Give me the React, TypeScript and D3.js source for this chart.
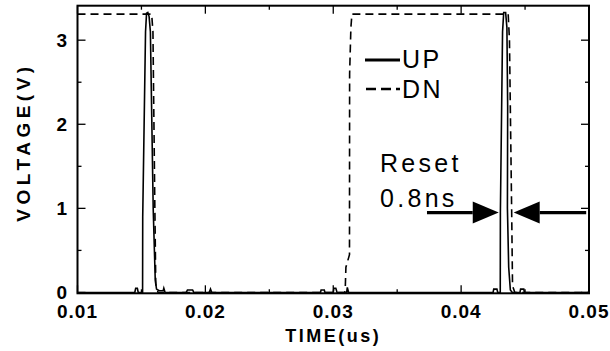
import React from "react";
import * as d3 from "d3";

// ---- data (time in us, voltage in V) ----
const upTime = [0.0100, 0.01448, 0.01455, 0.01468, 0.01475, 0.01509, 0.01510, 0.01532, 0.01540, 0.01550, 0.01560, 0.01570, 0.01592, 0.01608, 0.01618, 0.01640, 0.01670, 0.01675, 0.01685, 0.0185, 0.0186, 0.0190, 0.0191, 0.0203, 0.0204, 0.0205, 0.0290, 0.02905, 0.0293, 0.02935, 0.0300, 0.03005, 0.0302, 0.0303, 0.03045, 0.03105, 0.0311, 0.0312, 0.0425, 0.04255, 0.0428, 0.04286, 0.04306, 0.04307, 0.04324, 0.04333, 0.04348, 0.04358, 0.04364, 0.04362, 0.04372, 0.04385, 0.0440, 0.0446, 0.04465, 0.0449, 0.04495, 0.0500];
const upVolt = [0, 0, 0.05, 0.05, 0, 0, 0.9, 3.1, 3.32, 3.33, 3.28, 3.1, 1.0, 0.15, 0.04, 0.02, 0.02, 0.05, 0, 0, 0.03, 0.03, 0, 0, 0.04, 0, 0, 0.03, 0.03, 0, 0, 0.05, 0.05, 0, 0, 0, 0.06, 0, 0, 0.04, 0.04, 0, 0, 0.95, 3.1, 3.33, 3.33, 3.15, 2.2, 1.0, 0.3, 0.03, 0, 0, 0.04, 0.04, 0, 0];

const dnTime = [0.0100, 0.01580, 0.01590, 0.01605, 0.01612, 0.01630, 0.0309, 0.03094, 0.03099, 0.03127, 0.03128, 0.03138, 0.03146, 0.04368, 0.04378, 0.04395, 0.04402, 0.04420, 0.0500];
const dnVolt = [3.31, 3.31, 3.1, 1.0, 0.1, 0, 0, 0.05, 0.3, 0.45, 2.6, 3.15, 3.31, 3.31, 3.0, 1.0, 0.08, 0, 0];

const xTicks = [0.01, 0.02, 0.03, 0.04, 0.05];
const xTickLabels = ["0.01", "0.02", "0.03", "0.04", "0.05"];
const yTicks = [0, 1, 2, 3];
const yTickLabels = ["0", "1", "2", "3"];
const legendNames = ["UP", "DN"];
const annotationLines = ["Reset", "0.8ns"];
// arrows: [tail time, tip time] at given voltage
const arrowLeft = [0.03733, 0.04294];
const arrowRight = [0.04978, 0.04411];
const arrowVolt = 0.95;

const W = 610, H = 351;
const X0 = 77.5, X1 = 589, Y0 = 5.7, Y1 = 293.3;
const FONT = "'Liberation Sans', Arial, Helvetica, sans-serif";

export default function App() {
  const x = d3.scaleLinear().domain([0.01, 0.05]).range([X0, X1]);
  const y = d3.scaleLinear().domain([-0.01, 3.41]).range([Y1, Y0]);
  const line = d3.line<[number, number]>().x(d => x(d[0])).y(d => y(d[1]));
  const up = upTime.map((t, i) => [t, upVolt[i]] as [number, number]);
  const dn = dnTime.map((t, i) => [t, dnVolt[i]] as [number, number]);

  const xMinor = d3.range(0.01, 0.0501, 0.005);
  const yMinor = d3.range(0, 3.41, 0.5);

  const arrow = (tail: number, tip: number, key: string) => {
    const xt = x(tail), xp = x(tip), yy = y(arrowVolt);
    const dir = xp > xt ? 1 : -1;
    const base = xp - dir * 26;
    return (
      <g key={key}>
        <line x1={xt} y1={yy} x2={base} y2={yy} stroke="#000" strokeWidth={3.2} />
        <path d={`M${xp},${yy} L${base},${yy - 11} L${base},${yy + 11} Z`} fill="#000" />
      </g>
    );
  };

  return (
    <svg width={W} height={H} style={{ position: "absolute", left: 0, top: 0, background: "#fff" }} fontFamily={FONT}>
      <rect x={0} y={0} width={W} height={H} fill="#fff" />
      {xMinor.map((t, i) => {
        const major = i % 2 === 0;
        const len = major ? 8 : 4;
        return (
          <g key={"xm" + i}>
            <line x1={x(t)} x2={x(t)} y1={Y1} y2={Y1 - len} stroke="#000" strokeWidth={1.3} />
            <line x1={x(t)} x2={x(t)} y1={Y0} y2={Y0 + len} stroke="#000" strokeWidth={1.3} />
          </g>
        );
      })}
      {yMinor.map((v, i) => {
        const major = i % 2 === 0;
        const len = major ? 8 : 4;
        return (
          <g key={"ym" + i}>
            <line x1={X0} x2={X0 + len} y1={y(v)} y2={y(v)} stroke="#000" strokeWidth={1.3} />
            <line x1={X1} x2={X1 - len} y1={y(v)} y2={y(v)} stroke="#000" strokeWidth={1.3} />
          </g>
        );
      })}
      <path d={line(dn) || ""} fill="none" stroke="#000" strokeWidth={1.6} strokeDasharray="8,5" />
      <path d={line(up) || ""} fill="none" stroke="#000" strokeWidth={1.6} />
      <rect x={X0} y={Y0} width={X1 - X0} height={Y1 - Y0} fill="none" stroke="#000" strokeWidth={2} />
      {xTicks.map((t, i) => (
        <text key={"xt" + i} x={x(t)} y={318} textAnchor="middle" fontSize={19} fontWeight="bold" letterSpacing={1}>
          {xTickLabels[i]}
        </text>
      ))}
      {yTicks.map((v, i) => (
        <text key={"yt" + i} x={67} y={y(v) + 6.5} textAnchor="end" fontSize={19} fontWeight="bold">
          {yTickLabels[i]}
        </text>
      ))}
      <text x={x(0.03)} y={342} textAnchor="middle" fontSize={18} fontWeight="bold" letterSpacing={2.5}>TIME(us)</text>
      <text transform={`translate(30,142) rotate(-90)`} textAnchor="middle" fontSize={19} fontWeight="bold" letterSpacing={4.5}>VOLTAGE(V)</text>
      <line x1={365} x2={400} y1={60} y2={60} stroke="#000" strokeWidth={3} />
      <line x1={366} x2={400} y1={89} y2={89} stroke="#000" strokeWidth={2.5} strokeDasharray="10,5" />
      <text x={402} y={68} fontSize={25} letterSpacing={2.5}>{legendNames[0]}</text>
      <text x={402} y={98} fontSize={25} letterSpacing={2.5}>{legendNames[1]}</text>
      <text x={380} y={172} fontSize={25} letterSpacing={3.3}>{annotationLines[0]}</text>
      <text x={380} y={207} fontSize={25} letterSpacing={3.3}>{annotationLines[1]}</text>
      {arrow(arrowLeft[0], arrowLeft[1], "al")}
      {arrow(arrowRight[0], arrowRight[1], "ar")}
    </svg>
  );
}
